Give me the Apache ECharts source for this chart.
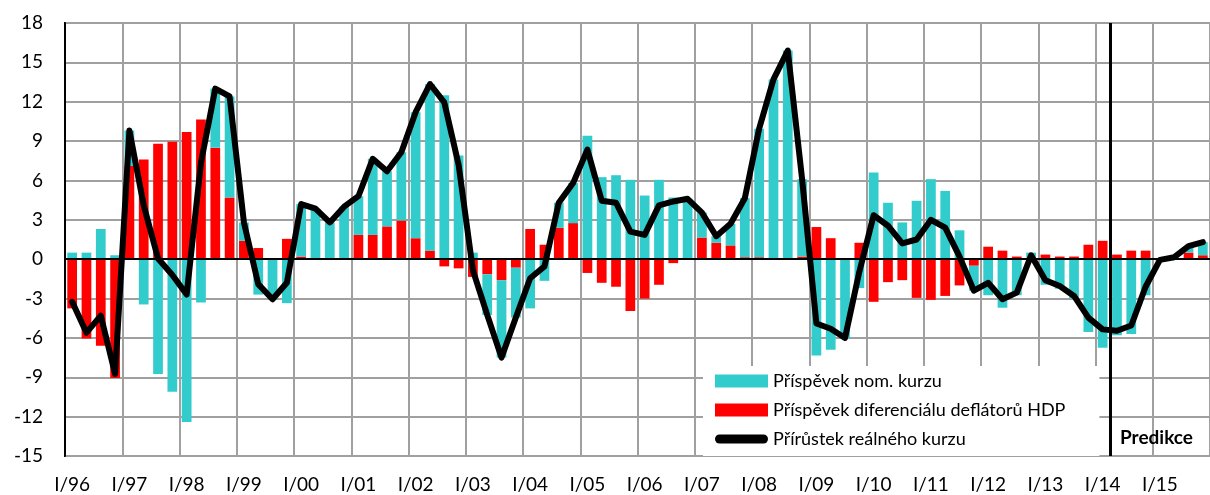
<!DOCTYPE html>
<html>
<head>
<meta charset="utf-8">
<script src="https://cdn.jsdelivr.net/npm/echarts@6/dist/echarts.min.js"></script>
<style>
  html, body { margin: 0; padding: 0; background: #fff; }
  #chart { width: 1210px; height: 495px; }
</style>
</head>
<body>
<div id="chart"></div>
<script>
const years = ['96', '97', '98', '99', '00', '01', '02', '03', '04', '05',
  '06', '07', '08', '09', '10', '11', '12', '13', '14', '15']
const quarters = ['I', 'II', 'III', 'IV']
const categories = []
years.forEach((y) => quarters.forEach((q) => categories.push(q + '/' + y)))

// příspěvek nominálního kurzu
const nomKurz = [
  0.5, 0.5, 2.3, 0.3, 2.7, -3.45, -8.75, -10.1,
  -12.4, -3.3, 4.5, 7.7, 1.4, -2.7, -3.1, -3.35,
  4.0, 3.8, 2.8, 4.0, 2.95, 5.8, 4.2, 5.2,
  9.6, 12.7, 12.5, 7.9, 0.5, -3.1, -5.9, -3.8,
  -3.75, -1.65, 1.9, 3.05, 9.4, 6.25, 6.4, 6.05,
  4.85, 6.05, 4.7, 4.6, 1.9, 0.5, 1.65, 4.5,
  9.8, 13.7, 15.9, 5.9, -7.35, -6.9, -6.05, -2.2,
  6.6, 4.3, 2.8, 4.45, 6.1, 5.2, 2.2, -1.9,
  -2.75, -3.7, -2.75, 0.5, -1.95, -2.25, -3.0, -5.55,
  -6.75, -5.8, -5.7, -2.75, -0.1, 0.1, 0.5, 1.0,
]
// příspěvek diferenciálu deflátorů HDP
const deflDiff = [
  -3.75, -6.05, -6.6, -9.05, 7.1, 7.6, 8.8, 8.95,
  9.7, 10.65, 8.5, 4.7, 1.4, 0.85, 0.05, 1.55,
  0.2, 0.05, 0.0, 0.0, 1.85, 1.85, 2.5, 2.95,
  1.6, 0.65, -0.55, -0.7, -1.35, -1.15, -1.6, -0.65,
  2.3, 1.1, 2.4, 2.75, -1.05, -1.8, -2.1, -3.95,
  -3.0, -1.95, -0.3, 0.0, 1.65, 1.25, 1.05, 0.15,
  0.15, 0.0, 0.0, 0.2, 2.45, 1.6, 0.05, 1.25,
  -3.25, -1.75, -1.6, -2.95, -3.1, -2.8, -2.0, -0.5,
  0.95, 0.65, 0.2, -0.2, 0.35, 0.2, 0.2, 1.1,
  1.4, 0.35, 0.65, 0.65, 0.05, 0.05, 0.5, 0.3,
]
// přírůstek reálného kurzu
const realKurz = [
  -3.25, -5.6, -4.3, -8.75, 9.8, 4.1, 0.05, -1.2,
  -2.7, 7.35, 13.0, 12.4, 2.8, -1.9, -3.05, -1.8,
  4.2, 3.85, 2.8, 4.0, 4.8, 7.65, 6.7, 8.15,
  11.2, 13.35, 11.95, 7.2, -0.85, -4.25, -7.5, -4.45,
  -1.45, -0.55, 4.3, 5.8, 8.35, 4.45, 4.3, 2.1,
  1.85, 4.1, 4.4, 4.6, 3.55, 1.75, 2.7, 4.65,
  9.95, 13.7, 15.9, 6.1, -4.9, -5.3, -6.0, -0.95,
  3.35, 2.55, 1.2, 1.5, 3.0, 2.4, 0.2, -2.4,
  -1.8, -3.05, -2.55, 0.3, -1.6, -2.05, -2.8, -4.45,
  -5.35, -5.45, -5.05, -2.1, -0.05, 0.15, 1.0, 1.3,
]
const yTicks = { min: -15, max: 18, interval: 3 }
const predictionStart = 73 // hranice I/14 | II/14

const names = [
  'Příspěvek nom. kurzu',
  'Příspěvek diferenciálu deflátorů HDP',
  'Přírůstek reálného kurzu',
]

const font = 'Lato, "Open Sans", sans-serif'
// tlustá čára s kulatými konci, vycentrovaná v boxu 53x13
const lineIcon = 'path://M0,0 M53,13 M4.5,2 H48.5 A4.5,4.5 0 0 1 48.5,11 H4.5 A4.5,4.5 0 0 1 4.5,2 Z'

const chart = echarts.init(document.getElementById('chart'), null, { renderer: 'canvas' })

chart.setOption({
  backgroundColor: '#fff',
  animation: false,
  textStyle: { fontFamily: font, color: '#000' },
  grid: {
    left: 65,
    right: 0,
    top: 23,
    bottom: 39,
    show: true,
    borderColor: '#000',
    borderWidth: 2,
  },
  legend: {
    data: [
      { name: names[0], icon: 'rect' },
      { name: names[1], icon: 'rect' },
      { name: names[2], icon: lineIcon },
    ],
    orient: 'vertical',
    left: 703,
    top: 366,
    padding: [6, 34, 8, 12],
    backgroundColor: '#fff',
    itemWidth: 53,
    itemHeight: 13,
    itemGap: 11,
    selectedMode: false,
    textStyle: { fontFamily: font, fontSize: 18, color: '#000' },
  },
  xAxis: [
    {
      type: 'category',
      data: categories,
      boundaryGap: true,
      axisLine: { show: true, lineStyle: { color: '#000', width: 2 } },
      axisTick: { show: false },
      axisLabel: {
        interval: 3,
        fontSize: 19,
        color: '#000',
        margin: 19,
        fontFamily: font,
      },
      splitLine: {
        show: true,
        interval: (i) => i % 4 === 0,
        lineStyle: { color: '#a0a0a0', width: 2 },
      },
    },
    {
      type: 'value',
      min: 0,
      max: categories.length,
      show: false,
    },
  ],
  yAxis: {
    type: 'value',
    min: yTicks.min,
    max: yTicks.max,
    interval: yTicks.interval,
    axisLine: { show: true, lineStyle: { color: '#000', width: 2 } },
    axisTick: { show: false },
    axisLabel: { fontSize: 19, color: '#000', margin: 22, fontFamily: font },
    splitLine: { lineStyle: { color: '#a0a0a0', width: 2 } },
  },
  graphic: [
    {
      type: 'text',
      left: 1120,
      top: 428,
      z: 10,
      style: {
        text: 'Predikce',
        font: 'bold 19px ' + font,
        fill: '#000',
      },
    },
  ],
  series: [
    {
      name: names[1],
      type: 'bar',
      stack: 'kurz',
      data: deflDiff,
      barCategoryGap: '32%',
      itemStyle: { color: '#ff0000' },
    },
    {
      name: names[0],
      type: 'bar',
      stack: 'kurz',
      data: nomKurz,
      itemStyle: { color: '#33cccc' },
      markLine: {
        silent: true,
        symbol: 'none',
        label: { show: false },
        lineStyle: { color: '#000', width: 2, type: 'solid' },
        data: [{ yAxis: 0 }],
      },
    },
    {
      name: names[2],
      type: 'line',
      data: realKurz,
      symbol: 'none',
      z: 5,
      lineStyle: { color: '#000', width: 6, cap: 'round', join: 'round' },
      itemStyle: { color: '#000' },
    },
    {
      name: 'predikce',
      type: 'line',
      xAxisIndex: 1,
      data: [],
      symbol: 'none',
      z: 6,
      markLine: {
        silent: true,
        symbol: 'none',
        label: { show: false },
        lineStyle: { color: '#000', width: 3, type: 'solid' },
        data: [{ xAxis: predictionStart }],
      },
    },
  ],
})
</script>
</body>
</html>
